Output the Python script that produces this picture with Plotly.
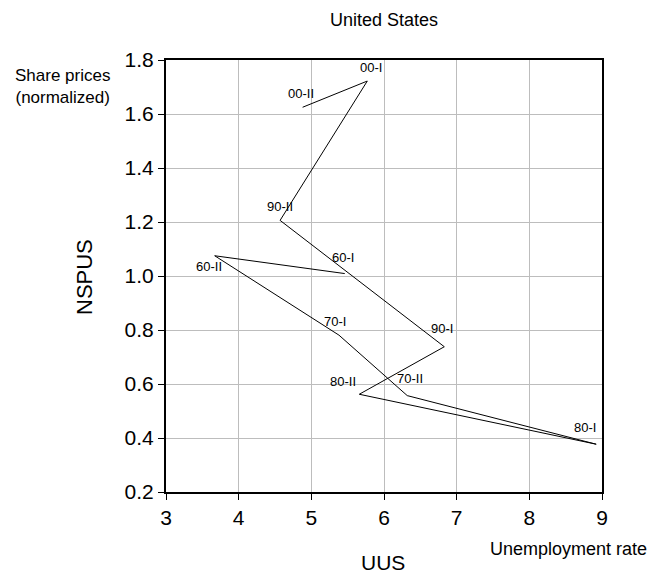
import plotly.graph_objects as go

# Data
periods = ["60-I", "60-II", "70-I", "70-II", "80-I", "80-II", "90-I", "90-II", "00-I", "00-II"]
unemployment = [5.46, 3.67, 5.38, 6.32, 8.92, 5.66, 6.83, 4.57, 5.77, 4.88]
share_prices = [1.009, 1.075, 0.781, 0.557, 0.377, 0.562, 0.738, 1.206, 1.722, 1.625]
x_ticks = [3, 4, 5, 6, 7, 8, 9]
y_ticks = [0.2, 0.4, 0.6, 0.8, 1.0, 1.2, 1.4, 1.6, 1.8]

# Label pixel offsets (style only)
label_shift = {
    "60-I": (-2, 16), "60-II": (-6, -11), "70-I": (-4, 14), "70-II": (3, 17),
    "80-I": (-11, 17), "80-II": (-16, 13), "90-I": (-2, 18), "90-II": (0, 14),
    "00-I": (4, 14), "00-II": (-2, 14),
}

FONT = "Arial, Liberation Sans, sans-serif"

# page body has an 8px margin; layout below is computed in screen pixels
OFF = 8
SCR_W, SCR_H = 658, 574
W, H = SCR_W - OFF, SCR_H - OFF
PL, PR, PT, PB = 166, 602, 60, 492  # plot area in screen pixels
L, T = PL - OFF, PT - OFF
R, B = SCR_W - PR, SCR_H - PB
pw, ph = PR - PL, PB - PT


def px(sx):
    return (sx - PL) / pw


def py(sy):
    return (PB - sy) / ph


fig = go.Figure()
fig.add_trace(go.Scatter(
    x=unemployment, y=share_prices, mode="lines",
    line=dict(color="black", width=1), hoverinfo="skip", showlegend=False,
))

for p, xv, yv in zip(periods, unemployment, share_prices):
    dx, dy = label_shift[p]
    fig.add_annotation(x=xv, y=yv, text=p, showarrow=False,
                       xshift=dx, yshift=dy,
                       font=dict(family=FONT, size=13, color="black"))

fig.update_layout(
    width=W, height=H,
    margin=dict(l=L, r=R, t=T, b=B),
    paper_bgcolor="white", plot_bgcolor="white",
    font=dict(family=FONT, color="black"),
    title=dict(text="United States", x=(PL + pw / 2 - OFF) / W, xanchor="center",
               y=1 - (20 - OFF) / H, yanchor="middle", font=dict(size=18)),
    xaxis=dict(range=[3, 9], tickvals=x_ticks, ticktext=[str(v) for v in x_ticks],
               showgrid=True, gridcolor="#bdbdbd", gridwidth=1,
               showline=True, linecolor="black", linewidth=2, mirror=True,
               ticks="outside", ticklen=6, tickcolor="black", tickwidth=1,
               tickfont=dict(size=21), zeroline=False),
    yaxis=dict(range=[0.2, 1.8], tickvals=y_ticks, ticktext=[f"{v:.1f}" for v in y_ticks],
               showgrid=True, gridcolor="#bdbdbd", gridwidth=1,
               showline=True, linecolor="black", linewidth=2, mirror=True,
               ticks="outside", ticklen=6, tickcolor="black", tickwidth=1,
               tickfont=dict(size=21), zeroline=False),
)

# Axis titles and notes
fig.add_annotation(text="NSPUS", xref="paper", yref="paper",
                   x=px(84), y=py(277), textangle=-90,
                   showarrow=False, font=dict(size=22), xanchor="center", yanchor="middle")
fig.add_annotation(text="UUS", xref="paper", yref="paper",
                   x=px(383), y=py(562),
                   showarrow=False, font=dict(size=21), xanchor="center", yanchor="middle")
fig.add_annotation(text="Unemployment rate", xref="paper", yref="paper",
                   x=px(568), y=py(549),
                   showarrow=False, font=dict(size=18), xanchor="center", yanchor="middle")
fig.add_annotation(text="Share prices<br>(normalized)", xref="paper", yref="paper",
                   x=px(62), y=py(86), align="center",
                   showarrow=False, font=dict(size=17), xanchor="center", yanchor="middle")

fig.write_html("out.html")
